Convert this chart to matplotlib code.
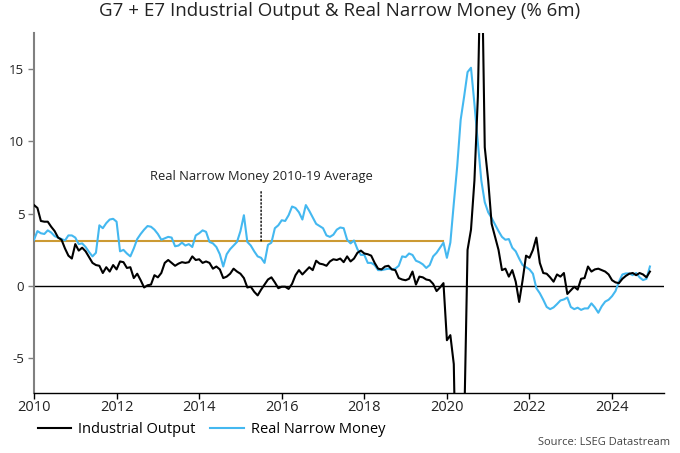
import numpy as np
import matplotlib
matplotlib.use("Agg")
import matplotlib.pyplot as plt

plt.rcParams['font.family'] = ['Open Sans', 'DejaVu Sans']

start_year = 2010
industrial_output = [
    5.6, 5.4, 4.5, 4.45, 4.45, 4.1, 3.8, 3.35, 3.2, 2.6, 2.1, 1.9,
    2.9, 2.45, 2.65, 2.4, 2.0, 1.6, 1.45, 1.4, 0.9, 1.3, 1.0, 1.45,
    1.15, 1.7, 1.65, 1.25, 1.3, 0.55, 0.85, 0.4, -0.1, 0.05, 0.1, 0.75,
    0.6, 0.9, 1.6, 1.8, 1.6, 1.4, 1.55, 1.65, 1.6, 1.65, 2.05, 1.8,
    1.85, 1.6, 1.7, 1.6, 1.2, 1.35, 1.15, 0.55, 0.65, 0.85, 1.2, 1.0,
    0.85, 0.55, -0.1, -0.05, -0.4, -0.65, -0.25, 0.1, 0.45, 0.6, 0.25, -0.15,
    -0.05, -0.05, -0.2, 0.15, 0.75, 1.1, 0.8, 1.05, 1.3, 1.1, 1.75, 1.55,
    1.5, 1.4, 1.7, 1.85, 1.8, 1.9, 1.65, 2.05, 1.7, 1.9, 2.3, 2.45,
    2.25, 2.2, 2.1, 1.6, 1.2, 1.15, 1.35, 1.4, 1.15, 1.1, 0.55, 0.45,
    0.4, 0.5, 1.0, 0.1, 0.65, 0.6, 0.45, 0.4, 0.15, -0.35, -0.1, 0.2,
    -3.75, -3.4, -5.4, -18.0, -20.0, -10.0, 2.5, 3.9, 7.3, 13.1, 25.0, 9.6,
    7.3, 4.3, 3.4, 2.5, 1.1, 1.2, 0.65, 1.1, 0.3, -1.1, 0.4, 2.1,
    1.95, 2.5, 3.35, 1.6, 0.9, 0.85, 0.6, 0.3, 0.8, 0.65, 0.9, -0.55,
    -0.3, -0.05, -0.25, 0.5, 0.55, 1.35, 1.0, 1.15, 1.2, 1.1, 1.0, 0.8,
    0.4, 0.25, 0.2, 0.5, 0.7, 0.85, 0.9, 0.75, 0.9, 0.8, 0.6, 1.0,
]
real_narrow_money = [
    3.2, 3.8, 3.65, 3.6, 3.85, 3.7, 3.45, 3.35, 3.25, 3.15, 3.5, 3.5,
    3.35, 2.9, 2.95, 2.7, 2.35, 2.05, 2.3, 4.2, 4.0, 4.35, 4.6, 4.65,
    4.45, 2.4, 2.5, 2.25, 2.05, 2.6, 3.25, 3.6, 3.9, 4.15, 4.1, 3.9,
    3.6, 3.2, 3.3, 3.4, 3.35, 2.75, 2.8, 3.0, 2.8, 2.9, 2.7, 3.5,
    3.65, 3.85, 3.75, 3.05, 2.95, 2.7, 2.2, 1.35, 2.2, 2.55, 2.8, 3.05,
    3.8, 4.9, 3.05, 2.8, 2.4, 2.05, 1.95, 1.6, 2.85, 3.0, 4.0, 4.2,
    4.55, 4.5, 4.9, 5.5, 5.4, 5.1, 4.6, 5.6, 5.2, 4.75, 4.3, 4.15,
    4.0, 3.5, 3.4, 3.55, 3.9, 4.05, 4.0, 3.2, 2.95, 3.15, 2.55, 2.15,
    2.15, 1.6, 1.6, 1.45, 1.1, 1.1, 1.15, 1.2, 1.15, 1.2, 1.4, 2.05,
    2.0, 2.25, 2.15, 1.75, 1.65, 1.5, 1.25, 1.45, 2.05, 2.3, 2.65, 3.0,
    1.95, 3.0, 5.7, 8.3, 11.5, 13.1, 14.8, 15.1, 12.6, 9.9, 7.3, 5.8,
    5.1, 4.7, 4.25, 3.8, 3.4, 3.2, 3.25, 2.65, 2.4, 1.9, 1.45, 1.3,
    1.15, 0.85, -0.15, -0.5, -0.95, -1.45, -1.6, -1.48, -1.25, -1.0, -0.93, -0.8,
    -1.45, -1.6, -1.5, -1.65, -1.55, -1.55, -1.2, -1.48, -1.85, -1.4, -1.08, -0.95,
    -0.7, -0.35, 0.3, 0.8, 0.87, 0.87, 0.75, 0.9, 0.6, 0.41, 0.5, 1.35,
]
average_value = 3.1
average_period = (2010, 2019)
y_ticks = [-5, 0, 5, 10, 15]
x_ticks = [2010, 2012, 2014, 2016, 2018, 2020, 2022, 2024]

months = np.arange(len(industrial_output))
x = start_year + months / 12.0

fig = plt.figure(figsize=(6.8, 4.53), dpi=100)
ax = fig.add_axes([0.05, 0.1325, 0.926, 0.7945])

ax.plot(x, industrial_output, color='black', lw=1.5, label='Industrial Output', zorder=4)
ax.plot(x, real_narrow_money, color='#44B8F0', lw=1.5, label='Real Narrow Money', zorder=3)

avg_mask = (x >= average_period[0]) & (x < average_period[1] + 1)
ax.plot(x[avg_mask], [average_value] * int(avg_mask.sum()), color='#CC9A33', lw=1.5, zorder=2)

ax.axhline(0, color='black', lw=1.0, zorder=1)

ax.annotate('Real Narrow Money 2010-19 Average', xy=(2015.5, average_value), xytext=(2015.5, 7.55),
            ha='center', va='center', fontsize=9.3, color='#222222',
            arrowprops=dict(arrowstyle='-', linestyle=':', color='black', lw=1.0,
                            shrinkA=4, shrinkB=0))

ax.set_xlim(2010, 2025.25)
ax.set_ylim(-7.4, 17.5)
ax.set_yticks(y_ticks)
ax.set_yticklabels([str(v) for v in y_ticks])
ax.set_xticks(x_ticks)
ax.set_xticklabels([str(v) for v in x_ticks])

for s in ['top', 'right']:
    ax.spines[s].set_visible(False)
ax.spines['left'].set_color('#808080')
ax.spines['left'].set_linewidth(1.5)
ax.spines['bottom'].set_color('black')
ax.spines['bottom'].set_linewidth(1.0)
ax.tick_params(axis='y', colors='#808080', labelcolor='#222222', length=4, width=1, labelsize=9.5, pad=3)
ax.tick_params(axis='x', colors='black', labelcolor='#222222', length=4, width=1, labelsize=10.5, pad=1)

fig.suptitle('G7 + E7 Industrial Output & Real Narrow Money (% 6m)', x=0.5, y=0.995,
             fontsize=13.5, color='#222222', va='top')

leg = ax.legend(loc='upper left', bbox_to_anchor=(-0.015, -0.045), ncol=2, frameon=False,
                fontsize=10.5, handlelength=2.3, columnspacing=1.05, handletextpad=0.45)

fig.text(0.986, 0.012, 'Source: LSEG Datastream', ha='right', va='bottom', fontsize=8, color='#444444')

fig.savefig('out.png', dpi=100)
